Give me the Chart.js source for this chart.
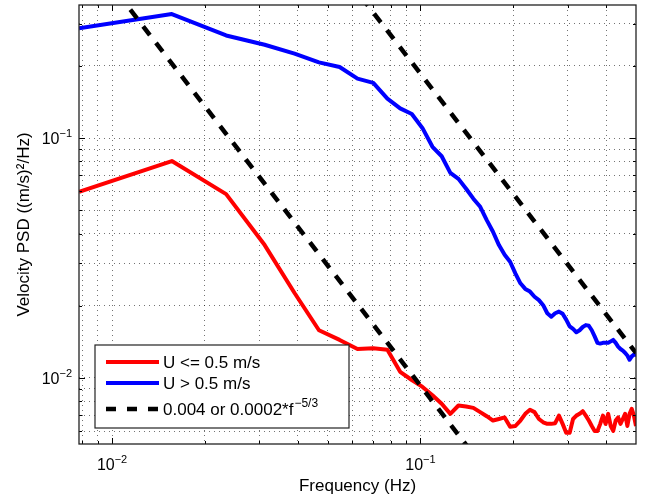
<!DOCTYPE html>
<html>
<head>
<meta charset="utf-8">
<script src="https://cdn.jsdelivr.net/npm/chart.js@4.4.0/dist/chart.umd.min.js"></script>
<style>
  html, body { margin: 0; padding: 0; background: #fff; }
  #wrap { width: 649px; height: 500px; }
</style>
</head>
<body>
<div id="wrap"><canvas id="psdChart" width="649" height="500"></canvas></div>
<script>
// frequency bins (Hz)
const freq = [
  0.0078125, 0.015625, 0.0234375, 0.03125, 0.0390625, 0.046875, 0.0546875, 0.0625,
  0.0703125, 0.078125, 0.0859375, 0.09375, 0.1015625, 0.109375, 0.1171875, 0.125,
  0.1328125, 0.140625, 0.1484375, 0.15625, 0.1640625, 0.171875, 0.1796875, 0.1875,
  0.1953125, 0.203125, 0.2109375, 0.21875, 0.2265625, 0.234375, 0.2421875, 0.25,
  0.2578125, 0.265625, 0.2734375, 0.28125, 0.2890625, 0.296875, 0.3046875, 0.3125,
  0.3203125, 0.328125, 0.3359375, 0.34375, 0.3515625, 0.359375, 0.3671875, 0.375,
  0.3828125, 0.390625, 0.3984375, 0.40625, 0.4140625, 0.421875, 0.4296875, 0.4375,
  0.4453125, 0.453125, 0.4609375, 0.46875, 0.4765625, 0.484375, 0.4921875, 0.5
];

// U <= 0.5 m/s
const psdLow = [
  0.0597, 0.0802, 0.0584, 0.0358, 0.0226, 0.0158, 0.0144, 0.0132, 0.0133, 0.0131,
  0.0106, 0.0098, 0.00917, 0.00846, 0.0078, 0.00708, 0.00767, 0.0076, 0.0075, 0.0072,
  0.00692, 0.00664, 0.00674, 0.00684, 0.00625, 0.0063, 0.00664, 0.00708, 0.00736, 0.0072,
  0.00674, 0.00653, 0.00643, 0.00643, 0.00647, 0.00696, 0.00643, 0.00591, 0.00591, 0.00674,
  0.00696, 0.00708, 0.00726, 0.00696, 0.00664, 0.0063, 0.00601, 0.00601, 0.00643, 0.00696,
  0.00643, 0.00708, 0.0063, 0.00601, 0.00664, 0.00684, 0.00643, 0.00674, 0.00708, 0.0063,
  0.00708, 0.00743, 0.00696, 0.0063
];

// U > 0.5 m/s
const psdHigh = [
  0.287, 0.329, 0.268, 0.245, 0.225, 0.207, 0.198, 0.177, 0.170, 0.146,
  0.133, 0.126, 0.110, 0.092, 0.084, 0.0716, 0.0676, 0.0615, 0.0559, 0.0517,
  0.0455, 0.0407, 0.0358, 0.0326, 0.0305, 0.0273, 0.0248, 0.0235, 0.0229, 0.0218,
  0.0211, 0.0201, 0.0186, 0.0180, 0.0186, 0.0189, 0.0185, 0.0175, 0.0164, 0.0160,
  0.0155, 0.0158, 0.0163, 0.0166, 0.0165, 0.0158, 0.0149, 0.0140, 0.0139, 0.0140,
  0.0140, 0.0140, 0.0142, 0.0144, 0.0140, 0.0135, 0.0132, 0.0130, 0.0127, 0.0124,
  0.0119, 0.0123, 0.0125, 0.0125
];

// -5/3 reference lines: 0.004*f^-5/3 and 0.0002*f^-5/3 at the ends of the range
const refFreq = [0.0078125, 0.5];
const refHigh = [13.0, 0.0127];
const refLow = [0.650, 0.000635];

// grid / tick positions and labels
const xGridVals = [0.008, 0.009, 0.01, 0.02, 0.03, 0.04, 0.05, 0.06, 0.07, 0.08, 0.09, 0.1, 0.2, 0.3, 0.4];
const yGridVals = [0.006, 0.007, 0.008, 0.009, 0.01, 0.02, 0.03, 0.04, 0.05, 0.06, 0.07, 0.08, 0.09, 0.1, 0.2, 0.3];
const xLabelVals = [0.01, 0.1];
const xLabelExps = ['\u22122', '\u22121'];
const yLabelVals = [0.01, 0.1];
const yLabelExps = ['\u22122', '\u22121'];
const legendLabels = ['U <= 0.5 m/s', 'U > 0.5 m/s', '0.004 or 0.0002*f'];

const FONT = '"Liberation Sans", Arial, Helvetica, sans-serif';

function isDecade(v) {
  const l = Math.log10(v);
  return Math.abs(l - Math.round(l)) < 1e-9;
}

function drawPow(ctx, x, y, exp, align) {
  ctx.font = '16px ' + FONT;
  const w1 = ctx.measureText('10').width;
  ctx.font = '11px ' + FONT;
  const w2 = ctx.measureText(exp).width;
  const left = align === 'center' ? x - (w1 + w2) / 2 : x - w1 - w2;
  ctx.textAlign = 'left';
  ctx.textBaseline = 'alphabetic';
  ctx.font = '16px ' + FONT;
  ctx.fillText('10', left, y);
  ctx.font = '11px ' + FONT;
  ctx.fillText(exp, left + w1, y - 7);
}

const framePlugin = {
  id: 'frame',
  afterDraw(chart) {
    const { ctx, chartArea: a, scales: { x, y } } = chart;
    ctx.save();
    ctx.fillStyle = '#000';
    ctx.strokeStyle = '#000';

    // inward ticks on all four sides
    ctx.lineWidth = 1;
    ctx.beginPath();
    xGridVals.forEach(v => {
      const px = Math.round(x.getPixelForValue(v)) + 0.5;
      const len = isDecade(v) ? 6 : 3;
      ctx.moveTo(px, a.bottom); ctx.lineTo(px, a.bottom - len);
      ctx.moveTo(px, a.top); ctx.lineTo(px, a.top + len);
    });
    yGridVals.forEach(v => {
      const py = Math.round(y.getPixelForValue(v)) + 0.5;
      const len = isDecade(v) ? 6 : 3;
      ctx.moveTo(a.left, py); ctx.lineTo(a.left + len, py);
      ctx.moveTo(a.right, py); ctx.lineTo(a.right - len, py);
    });
    ctx.stroke();

    // axes box
    ctx.lineWidth = 1.3;
    ctx.strokeStyle = '#222';
    ctx.strokeRect(a.left, a.top, a.right - a.left, a.bottom - a.top);

    // tick labels
    ctx.fillStyle = '#000';
    xLabelVals.forEach((v, i) => drawPow(ctx, x.getPixelForValue(v), a.bottom + 26, xLabelExps[i], 'center'));
    yLabelVals.forEach((v, i) => drawPow(ctx, a.left - 7, y.getPixelForValue(v) + 6, yLabelExps[i], 'right'));

    // axis titles
    ctx.font = '17px ' + FONT;
    ctx.textAlign = 'center';
    ctx.textBaseline = 'alphabetic';
    ctx.fillText('Frequency (Hz)', (a.left + a.right) / 2, 491);
    ctx.save();
    ctx.translate(29, (a.top + a.bottom) / 2);
    ctx.rotate(-Math.PI / 2);
    ctx.fillText('Velocity PSD ((m/s)\u00B2/Hz)', 0, 0);
    ctx.restore();

    // legend
    const bx = a.left + 16, by = a.top + 340, bw = 254, bh = 83;
    ctx.fillStyle = '#fff';
    ctx.fillRect(bx, by, bw, bh);
    ctx.lineWidth = 1.2;
    ctx.strokeStyle = '#222';
    ctx.strokeRect(bx, by, bw, bh);
    const rows = [17, 38, 64];
    const colors = ['#ff0000', '#0000ff', '#000000'];
    rows.forEach((ry, i) => {
      ctx.beginPath();
      ctx.strokeStyle = colors[i];
      ctx.lineWidth = i === 2 ? 4.5 : 4;
      ctx.setLineDash(i === 2 ? [10, 11] : []);
      ctx.moveTo(bx + 11, by + ry);
      ctx.lineTo(bx + 64, by + ry);
      ctx.stroke();
      ctx.setLineDash([]);
      ctx.fillStyle = '#000';
      ctx.font = '17px ' + FONT;
      ctx.textAlign = 'left';
      ctx.fillText(legendLabels[i], bx + 68, by + ry + 6);
      if (i === 2) {
        const w = ctx.measureText(legendLabels[i]).width;
        ctx.font = '12px ' + FONT;
        ctx.fillText('\u22125/3', bx + 68 + w + 1, by + ry - 2);
      }
    });
    ctx.restore();
  }
};

const gridStyle = { color: 'rgba(0,0,0,0.55)', lineWidth: 1, drawTicks: false };

new Chart(document.getElementById('psdChart').getContext('2d'), {
  type: 'line',
  data: {
    datasets: [
      {
        label: 'U <= 0.5 m/s',
        data: freq.map((f, i) => ({ x: f, y: psdLow[i] })),
        borderColor: '#ff0000', borderWidth: 4, pointRadius: 0, tension: 0,
        borderJoinStyle: 'round', order: 1
      },
      {
        label: 'U > 0.5 m/s',
        data: freq.map((f, i) => ({ x: f, y: psdHigh[i] })),
        borderColor: '#0000ff', borderWidth: 4, pointRadius: 0, tension: 0,
        borderJoinStyle: 'round', order: 1
      },
      {
        label: '0.004 f^-5/3',
        data: refFreq.map((f, i) => ({ x: f, y: refHigh[i] })),
        borderColor: '#000', borderWidth: 4.5, borderDash: [11, 10], pointRadius: 0, order: 0
      },
      {
        label: '0.0002 f^-5/3',
        data: refFreq.map((f, i) => ({ x: f, y: refLow[i] })),
        borderColor: '#000', borderWidth: 4.5, borderDash: [11, 10], pointRadius: 0, order: 0
      }
    ]
  },
  options: {
    responsive: false,
    animation: false,
    devicePixelRatio: 1,
    layout: { padding: { top: 5, right: 13, left: 0, bottom: 0 } },
    plugins: { legend: { display: false }, tooltip: { enabled: false } },
    scales: {
      x: {
        type: 'logarithmic',
        min: 0.0078125,
        max: 0.5,
        grid: gridStyle,
        border: { display: false, dash: [1, 4] },
        ticks: { display: false },
        afterBuildTicks: s => { s.ticks = xGridVals.map(v => ({ value: v })); },
        afterFit: s => { s.height = 56; }
      },
      y: {
        type: 'logarithmic',
        min: 0.0053,
        max: 0.359,
        grid: gridStyle,
        border: { display: false, dash: [1, 4] },
        ticks: { display: false },
        afterBuildTicks: s => { s.ticks = yGridVals.map(v => ({ value: v })); },
        afterFit: s => { s.width = 79; }
      }
    }
  },
  plugins: [framePlugin]
});
</script>
</body>
</html>
